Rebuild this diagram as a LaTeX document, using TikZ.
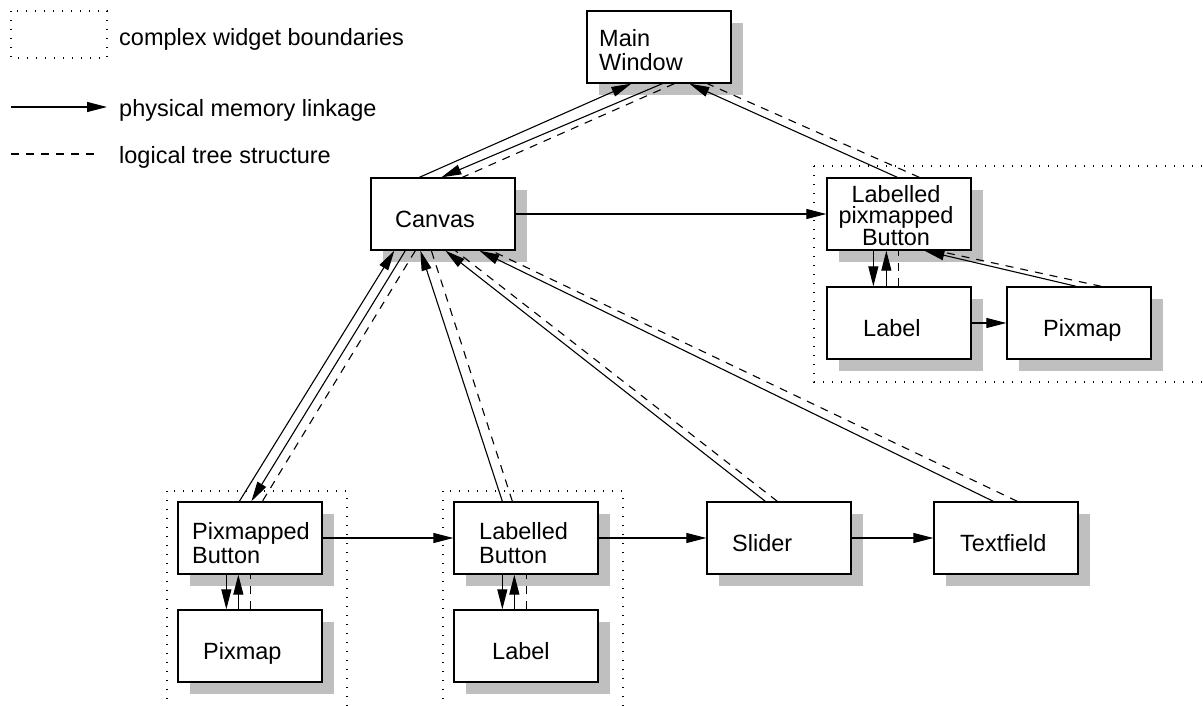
\documentclass[tikz,border=0pt]{standalone}
\usepackage{fontspec}
\setmainfont{Liberation Sans}
\usetikzlibrary{arrows.meta,shadows}
\begin{document}
\begin{tikzpicture}[x=1pt,y=-1pt,
  widget/.style={draw, line width=1.3pt, fill=white,
    minimum width=144pt, minimum height=72pt, inner sep=0pt,
    drop shadow={shadow xshift=12pt, shadow yshift=-12pt, fill=black!25, opacity=1}},
  txt/.style={inner sep=0pt, anchor=base west, align=left,
    font=\fontsize{23.5}{24}\selectfont},
  link/.style={line width=1.1pt, -{Triangle[length=20pt,width=10pt]}},
  tree/.style={line width=1.1pt, dash pattern=on 8pt off 7pt},
  group/.style={line width=1.2pt, dash pattern=on 1.2pt off 7.8pt}]
\useasboundingbox (0,0) rectangle (1203,706);

% complex widget boundaries
\draw[group] (11,11) rectangle (107,58);
\draw[group] (814,166) rectangle (1215,382);
\draw[group] (167,491) rectangle (347,720);
\draw[group] (443,491) rectangle (623,720);

% legend
\coordinate (lga) at (11,107);
\coordinate (lgb) at (107,107);
\coordinate (lgc) at (11,154);
\coordinate (lgd) at (97,154);
\draw[link] (lga) -- (lgb);
\draw[tree] (lgc) -- (lgd);
\node[txt] (lg1) at (119,46) {complex widget boundaries};
\node[txt] (lg2) at (119,117) {physical memory linkage};
\node[txt] (lg3) at (119,164) {logical tree structure};

% widgets
\node[widget] (mw) at (659,47) {};
\node[widget] (canvas) at (443,214) {};
\node[widget] (lpb) at (899,214) {};
\node[widget] (rlabel) at (899,323) {};
\node[widget] (rpix) at (1079,323) {};
\node[widget] (pb) at (250,538) {};
\node[widget] (bpix) at (250,646) {};
\node[widget] (lb) at (526,538) {};
\node[widget] (blabel) at (526,646) {};
\node[widget] (slider) at (779,538) {};
\node[widget] (tf) at (1006,538) {};

% widget names
\node[txt] (mwt) at (599,71) {Main\\Window};
\node[txt] (canvast) at (395,227) {Canvas};
\node[txt, anchor=base, align=center, font=\fontsize{23.5}{21.5}\selectfont] (lpbt) at (896,245) {Labelled\\pixmapped\\Button};
\node[txt] (rlabelt) at (863,336) {Label};
\node[txt] (rpixt) at (1043,336) {Pixmap};
\node[txt] (pbt) at (192,563) {Pixmapped\\Button};
\node[txt] (bpixt) at (203,659) {Pixmap};
\node[txt] (lbt) at (479,563) {Labelled\\Button};
\node[txt] (blabelt) at (492,659) {Label};
\node[txt] (slidert) at (732,551) {Slider};
\node[txt] (tft) at (960,551) {Textfield};

% Main Window and Canvas
\draw[link] ([xshift=49pt]canvas.north west) -- ([xshift=45pt]mw.south west);
\draw[link] ([xshift=76pt]mw.south west) -- ([xshift=71pt]canvas.north west);
\draw[tree] ([xshift=88pt]mw.south west) -- ([xshift=92pt]canvas.north west);

% Labelled pixmapped Button
\draw[link] ([xshift=71pt]lpb.north west) -- ([xshift=103pt]mw.south west);
\draw[tree] ([xshift=93pt]lpb.north west) -- ([xshift=121pt]mw.south west);
\draw[link] (canvas.east) -- (lpb.west);
\draw[link] ([xshift=47pt]lpb.south west) -- ([xshift=47pt]rlabel.north west);
\draw[link] ([xshift=60pt]rlabel.north west) -- ([xshift=60pt]lpb.south west);
\draw[tree] ([xshift=72pt]rlabel.north west) -- ([xshift=72pt]lpb.south west);
\draw[link] (rlabel.east) -- (rpix.west);
\draw[link] ([xshift=70pt]rpix.north west) -- ([xshift=98pt]lpb.south west);
\draw[tree] ([xshift=95pt]rpix.north west) -- ([xshift=110pt]lpb.south west);

% Pixmapped Button
\draw[link] ([xshift=62pt]pb.north west) -- ([xshift=24pt]canvas.south west);
\draw[link] ([xshift=35pt]canvas.south west) -- ([xshift=74pt]pb.north west);
\draw[tree] ([xshift=45pt]canvas.south west) -- ([xshift=85pt]pb.north west);
\draw[link] ([xshift=49pt]pb.south west) -- ([xshift=49pt]bpix.north west);
\draw[link] ([xshift=61pt]bpix.north west) -- ([xshift=61pt]pb.south west);
\draw[tree] ([xshift=73pt]bpix.north west) -- ([xshift=73pt]pb.south west);

% Labelled Button
\draw[link] ([xshift=49pt]lb.north west) -- ([xshift=50pt]canvas.south west);
\draw[tree] ([xshift=59pt]lb.north west) -- ([xshift=61pt]canvas.south west);
\draw[link] ([xshift=49pt]lb.south west) -- ([xshift=49pt]blabel.north west);
\draw[link] ([xshift=61pt]blabel.north west) -- ([xshift=61pt]lb.south west);
\draw[tree] ([xshift=73pt]blabel.north west) -- ([xshift=73pt]lb.south west);

% Slider and Textfield
\draw[link] ([xshift=59pt]slider.north west) -- ([xshift=75pt]canvas.south west);
\draw[tree] ([xshift=71pt]slider.north west) -- ([xshift=85pt]canvas.south west);
\draw[link] ([xshift=60pt]tf.north west) -- ([xshift=109pt]canvas.south west);
\draw[tree] ([xshift=84pt]tf.north west) -- ([xshift=121pt]canvas.south west);

% sibling chain
\draw[link] (pb.east) -- (lb.west);
\draw[link] (lb.east) -- (slider.west);
\draw[link] (slider.east) -- (tf.west);
\end{tikzpicture}
\end{document}
